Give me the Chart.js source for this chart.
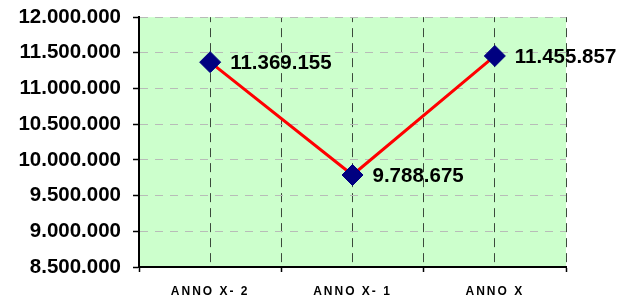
<!DOCTYPE html>
<html><head><meta charset="utf-8">
<script src="https://cdn.jsdelivr.net/npm/chart.js@4/dist/chart.umd.min.js"></script>
<style>html,body{margin:0;padding:0;background:#fff}#wrap{width:624px;height:301px}</style>
</head><body><div id="wrap"><canvas id="c" width="624" height="301"></canvas></div>
<script>
const categories = ['ANNO X- 2', 'ANNO X- 1', 'ANNO X'];
const values = [11369155, 9788675, 11455857];
const yTicks = [8500000, 9000000, 9500000, 10000000, 10500000, 11000000, 11500000, 12000000];

const fmt = v => Math.round(v).toString().replace(/\B(?=(\d{3})+(?!\d))/g, '.');

const bgPlugin = {
  id: 'bg',
  beforeDraw(chart) {
    const a = chart.chartArea, ctx = chart.ctx;
    ctx.save(); ctx.fillStyle = '#ccffcc';
    ctx.fillRect(a.left, a.top, a.right - a.left, a.bottom - a.top);
    ctx.restore();
  },
  afterLayout(chart) {
    const s = chart.scales.x;
    if (!s._wrapped) {
      const orig = s.drawLabels;
      s.drawLabels = function (area) {
        const ctx = this.ctx; ctx.save(); ctx.letterSpacing = '2px';
        orig.call(this, area); ctx.restore();
      };
      s._wrapped = true;
    }
  }
};
const labelPlugin = {
  id: 'vlabels',
  afterDatasetsDraw(chart) {
    const ctx = chart.ctx, meta = chart.getDatasetMeta(0);
    ctx.save();
    ctx.font = 'bold 20.5px "Liberation Sans", Arial, sans-serif';
    ctx.fillStyle = '#000'; ctx.textAlign = 'left'; ctx.textBaseline = 'middle';
    meta.data.forEach((p, i) => ctx.fillText(fmt(values[i]), p.x + 20, p.y + 1));
    ctx.restore();
  }
};

new Chart(document.getElementById('c'), {
  type: 'line',
  data: {
    datasets: [{
      data: values.map((v, i) => ({ x: i + 0.5, y: v })),
      borderColor: '#ff0000', borderWidth: 3, tension: 0,
      pointStyle: 'rectRot', pointRadius: 10.5,
      pointBackgroundColor: '#000080', pointBorderColor: '#000080', pointBorderWidth: 1
    }]
  },
  options: {
    responsive: false, animation: false, devicePixelRatio: 1,
    layout: { padding: { left: 0, right: 58, top: 16, bottom: 0 } },
    plugins: { legend: { display: false }, tooltip: { enabled: false } },
    scales: {
      x: {
        type: 'linear', min: 0, max: 3,
        afterBuildTicks: s => { s.ticks = [0, 0.5, 1, 1.5, 2, 2.5, 3].map(v => ({ value: v })); },
        afterFit: s => { s.height = 34; },
        ticks: {
          autoSkip: false, maxRotation: 0, padding: 12, color: '#000',
          font: { family: '"Liberation Sans", Arial, sans-serif', size: 12, weight: 'bold' },
          callback: v => Number.isInteger(v) ? '' : categories[Math.floor(v)]
        },
        grid: {
          color: c => (c.tick && c.tick.value === 0) ? 'rgba(0,0,0,0)' : '#3c4a3c',
          lineWidth: 1, tickLength: 5, tickWidth: 1.5,
          tickColor: c => (c.tick && Number.isInteger(c.tick.value)) ? '#000' : 'rgba(0,0,0,0)'
        },
        border: { display: true, color: '#000', width: 2, dash: [9, 6], dashOffset: 4 }
      },
      y: {
        type: 'linear', min: 8500000, max: 12000000,
        afterBuildTicks: s => { s.ticks = yTicks.map(v => ({ value: v })); },
        afterFit: s => { s.width = 139; },
        ticks: {
          padding: 12, color: '#000',
          font: { family: '"Liberation Sans", Arial, sans-serif', size: 20.5, weight: 'bold', lineHeight: 0.5 },
          callback: v => fmt(v)
        },
        grid: {
          color: c => (c.tick && c.tick.value === 8500000) ? 'rgba(0,0,0,0)' : '#b8bcb8',
          lineWidth: 1, tickLength: 6, tickWidth: 1.5, tickColor: '#000'
        },
        border: { display: true, color: '#000', width: 2, dash: [8, 7], dashOffset: 0 }
      }
    }
  },
  plugins: [bgPlugin, labelPlugin]
});
</script></body></html>
